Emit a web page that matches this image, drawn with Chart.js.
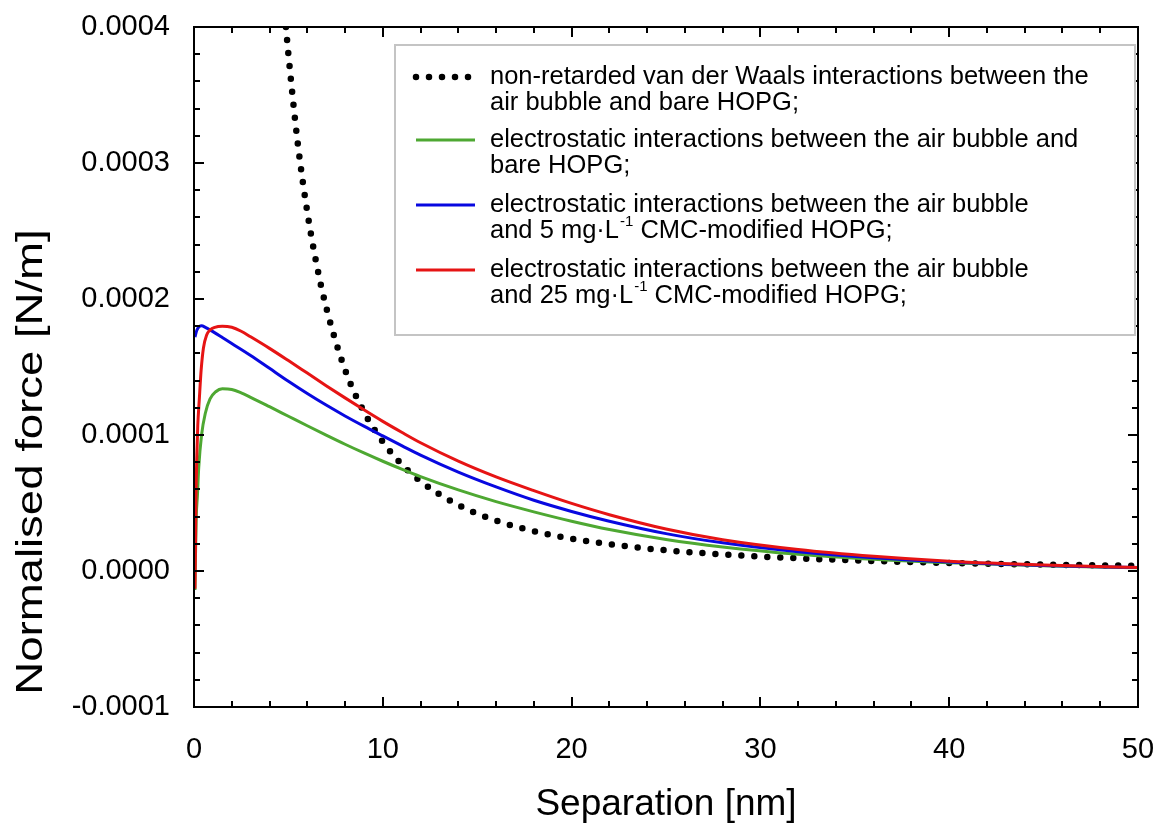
<!DOCTYPE html>
<html>
<head>
<meta charset="utf-8">
<script src="https://cdn.jsdelivr.net/npm/chart.js@4/dist/chart.umd.min.js"></script>
<style>
    body { margin: 0; background: #fff; }
    #chart { display: block; }
</style>
</head>
<body>
<canvas id="chart" width="1159" height="823"></canvas>
<script>
// Eksen etiketleri
const xTickValues = [0, 10, 20, 30, 40, 50];
const yTickValues = [-0.0001, 0, 0.0001, 0.0002, 0.0003, 0.0004];

// van der Waals (noktalı)
const vdwX = [4.87, 5, 5.5, 6, 6.5, 7, 8, 9, 10, 11, 12, 14, 16, 18, 20, 23, 26, 30, 35, 40, 45, 50];
const vdwY = [0.0004, 0.00038, 0.000314, 0.000264, 0.000225, 0.000194, 0.000148, 0.000117, 0.000095, 0.0000785,
    0.000066, 0.0000485, 0.0000371, 0.0000293, 0.0000238, 0.000018, 0.0000141, 0.0000106, 0.0000078, 0.0000059,
    0.0000047, 0.0000038];

// bare HOPG (yeşil)
const bareX = [0.05, 0.08, 0.12, 0.18, 0.25, 0.4, 0.6, 0.85, 1.15, 1.5, 2, 2.5, 3, 4, 5, 6, 7, 8, 9, 10, 11, 12, 14, 16, 18, 20, 22, 25, 28, 32, 36, 40, 45, 50];
const bareY = [-0.000014, 0.000012, 0.00004, 0.000055, 0.000076, 0.0001, 0.000116, 0.0001265, 0.0001318, 0.000134,
    0.0001335, 0.000131, 0.0001277, 0.0001208, 0.0001138, 0.0001068, 0.0000999, 0.0000932, 0.0000868, 0.0000807,
    0.0000749, 0.0000694, 0.0000596, 0.000051, 0.0000435, 0.0000366, 0.0000305, 0.0000232, 0.0000177, 0.0000123,
    0.0000086, 0.000006, 0.0000038, 0.0000024];

// 5 mg/L CMC (mavi)
const cmc5X = [0.05, 0.15, 0.3, 0.4, 0.6, 1, 1.5, 2, 3, 4, 5, 6, 7, 8, 9, 10, 11, 12, 14, 16, 18, 20, 22, 25, 28, 32, 36, 40, 45, 50];
const cmc5Y = [0.000172, 0.000177, 0.00018, 0.0001803, 0.0001792, 0.000176, 0.0001717, 0.0001673, 0.0001585, 0.000149,
    0.0001395, 0.0001305, 0.000122, 0.000114, 0.0001065, 0.0000993, 0.0000922, 0.0000852, 0.0000727, 0.0000618,
    0.000052, 0.0000438, 0.0000366, 0.0000275, 0.0000207, 0.0000142, 0.0000097, 0.0000066, 0.0000041, 0.0000025];

// 25 mg/L CMC (kırmızı)
const cmc25X = [0.05, 0.08, 0.1, 0.15, 0.2, 0.28, 0.38, 0.5, 0.67, 0.85, 1.1, 1.5, 2, 2.5, 3, 4, 5, 6, 7, 8, 9, 10, 11, 12, 14, 16, 18, 20, 22, 25, 28, 32, 36, 40, 45, 50];
const cmc25Y = [-0.000013, 0.00002, 0.00005, 0.000085, 0.000107, 0.000126, 0.000148, 0.000164, 0.0001735, 0.0001772,
    0.0001792, 0.00018, 0.0001792, 0.0001763, 0.0001722, 0.0001637, 0.0001547, 0.0001455, 0.0001363, 0.0001273,
    0.0001185, 0.00011, 0.000102, 0.0000943, 0.0000808, 0.0000692, 0.0000591, 0.0000497, 0.0000414, 0.0000309,
    0.000023, 0.0000158, 0.0000108, 0.0000072, 0.0000044, 0.0000026];

const legendEntries = [
    { color: "#000000", dotted: true,
      lines: [[{ t: "non-retarded van der Waals interactions between the" }], [{ t: "air bubble and bare HOPG;" }]] },
    { color: "#4ea832",
      lines: [[{ t: "electrostatic interactions between the air bubble and" }], [{ t: "bare HOPG;" }]] },
    { color: "#0808e0",
      lines: [[{ t: "electrostatic interactions between the air bubble" }],
              [{ t: "and 5 mg\u00b7L" }, { t: "-1", sup: true }, { t: " CMC-modified HOPG;" }]] },
    { color: "#e61414",
      lines: [[{ t: "electrostatic interactions between the air bubble" }],
              [{ t: "and 25 mg\u00b7L" }, { t: "-1", sup: true }, { t: " CMC-modified HOPG;" }]] },
];

const FONT = "'Liberation Sans', Arial, sans-serif";

function toPoints(xs, ys) {
    return xs.map((x, i) => ({ x: x, y: ys[i] }));
}

// Çerçeve, içe dönük tikler, açıklama ve eksen başlıkları
const decorPlugin = {
    id: "decor",
    afterDraw(chart) {
        const ctx = chart.ctx;
        const a = chart.chartArea;
        const xs = chart.scales.x;
        const ys = chart.scales.y;
        ctx.save();

        // tikler
        ctx.strokeStyle = "#000";
        ctx.lineWidth = 2;
        ctx.beginPath();
        for (let i = 0; i <= 25; i++) {
            const px = Math.round(xs.getPixelForValue(i * 2));
            const len = i % 5 === 0 ? 10 : 6;
            ctx.moveTo(px, a.bottom); ctx.lineTo(px, a.bottom - len);
            ctx.moveTo(px, a.top); ctx.lineTo(px, a.top + len);
        }
        for (let i = 0; i <= 25; i++) {
            const py = Math.round(ys.getPixelForValue(-0.0001 + i * 0.00002));
            const len = i % 5 === 0 ? 10 : 6;
            ctx.moveTo(a.left, py); ctx.lineTo(a.left + len, py);
            ctx.moveTo(a.right, py); ctx.lineTo(a.right - len, py);
        }
        ctx.stroke();
        ctx.strokeRect(a.left, a.top, a.right - a.left, a.bottom - a.top);

        // açıklama kutusu
        const box = { l: 395, t: 45, r: 1135, b: 335 };
        ctx.fillStyle = "#fff";
        ctx.fillRect(box.l, box.t, box.r - box.l, box.b - box.t);
        ctx.strokeStyle = "#c4c4c4";
        ctx.lineWidth = 2;
        ctx.strokeRect(box.l, box.t, box.r - box.l, box.b - box.t);

        const rowY = [77, 140, 205, 270];
        const pitch = 26;
        legendEntries.forEach((e, k) => {
            const y0 = rowY[k];
            ctx.save();
            ctx.strokeStyle = e.color;
            if (e.dotted) {
                ctx.lineWidth = 6.5;
                ctx.lineCap = "round";
                ctx.setLineDash([0, 13]);
            } else {
                ctx.lineWidth = 3;
            }
            ctx.beginPath();
            ctx.moveTo(416, y0); ctx.lineTo(475, y0);
            ctx.stroke();
            ctx.restore();

            ctx.fillStyle = "#000";
            ctx.textBaseline = "middle";
            ctx.textAlign = "left";
            e.lines.forEach((parts, j) => {
                let x = 490;
                const y = y0 + j * pitch;
                parts.forEach(p => {
                    if (p.sup) {
                        ctx.font = "15px " + FONT;
                        ctx.fillText(p.t, x + 1, y - 9);
                        x += ctx.measureText(p.t).width + 1;
                    } else {
                        ctx.font = "25.5px " + FONT;
                        ctx.fillText(p.t, x, y);
                        x += ctx.measureText(p.t).width;
                    }
                });
            });
        });

        // eksen başlıkları
        ctx.fillStyle = "#000";
        ctx.font = "37px " + FONT;
        ctx.textAlign = "center";
        ctx.textBaseline = "alphabetic";
        ctx.fillText("Separation [nm]", (a.left + a.right) / 2, 815);

        ctx.save();
        ctx.translate(42, 462);
        ctx.rotate(-Math.PI / 2);
        ctx.scale(1.23, 1);
        ctx.font = "37px " + FONT;
        ctx.fillText("Normalised force [N/m]", 0, 0);
        ctx.restore();

        ctx.restore();
    }
};

function lineSet(label, xs, ys, color, order) {
    return {
        label: label,
        data: toPoints(xs, ys),
        borderColor: color,
        borderWidth: 3,
        pointRadius: 0,
        cubicInterpolationMode: "monotone",
        order: order,
    };
}

const vdwSet = lineSet("vdW", vdwX, vdwY, "#000", 4);
vdwSet.borderWidth = 6.5;
vdwSet.borderDash = [0, 13];
vdwSet.borderCapStyle = "round";

new Chart(document.getElementById("chart").getContext("2d"), {
    type: "line",
    data: {
        datasets: [
            vdwSet,
            lineSet("bare", bareX, bareY, legendEntries[1].color, 3),
            lineSet("cmc5", cmc5X, cmc5Y, legendEntries[2].color, 2),
            lineSet("cmc25", cmc25X, cmc25Y, legendEntries[3].color, 1),
        ],
    },
    options: {
        responsive: false,
        animation: false,
        layout: { padding: { left: 0, top: 27, right: 21, bottom: 0 } },
        plugins: {
            legend: { display: false },
            tooltip: { enabled: false },
        },
        scales: {
            x: {
                type: "linear",
                min: 0,
                max: 50,
                afterBuildTicks: (s) => { s.ticks = xTickValues.map(v => ({ value: v })); },
                afterFit: (s) => { s.height = 116; s.paddingLeft = 0; s.paddingRight = 0; },
                grid: { display: false },
                border: { display: false },
                ticks: {
                    font: { size: 29, family: FONT },
                    color: "#000",
                    padding: 18,
                    maxRotation: 0,
                    autoSkip: false,
                    callback: (v) => String(v),
                },
            },
            y: {
                type: "linear",
                min: -0.0001,
                max: 0.0004,
                afterBuildTicks: (s) => { s.ticks = yTickValues.map(v => ({ value: v })); },
                afterFit: (s) => { s.width = 194; s.paddingTop = 0; s.paddingBottom = 0; },
                grid: { display: false },
                border: { display: false },
                ticks: {
                    font: { size: 29, family: FONT },
                    color: "#000",
                    padding: 16,
                    autoSkip: false,
                    callback: (v) => Number(v).toFixed(4),
                },
            },
        },
    },
    plugins: [decorPlugin],
});
</script>
</body>
</html>
